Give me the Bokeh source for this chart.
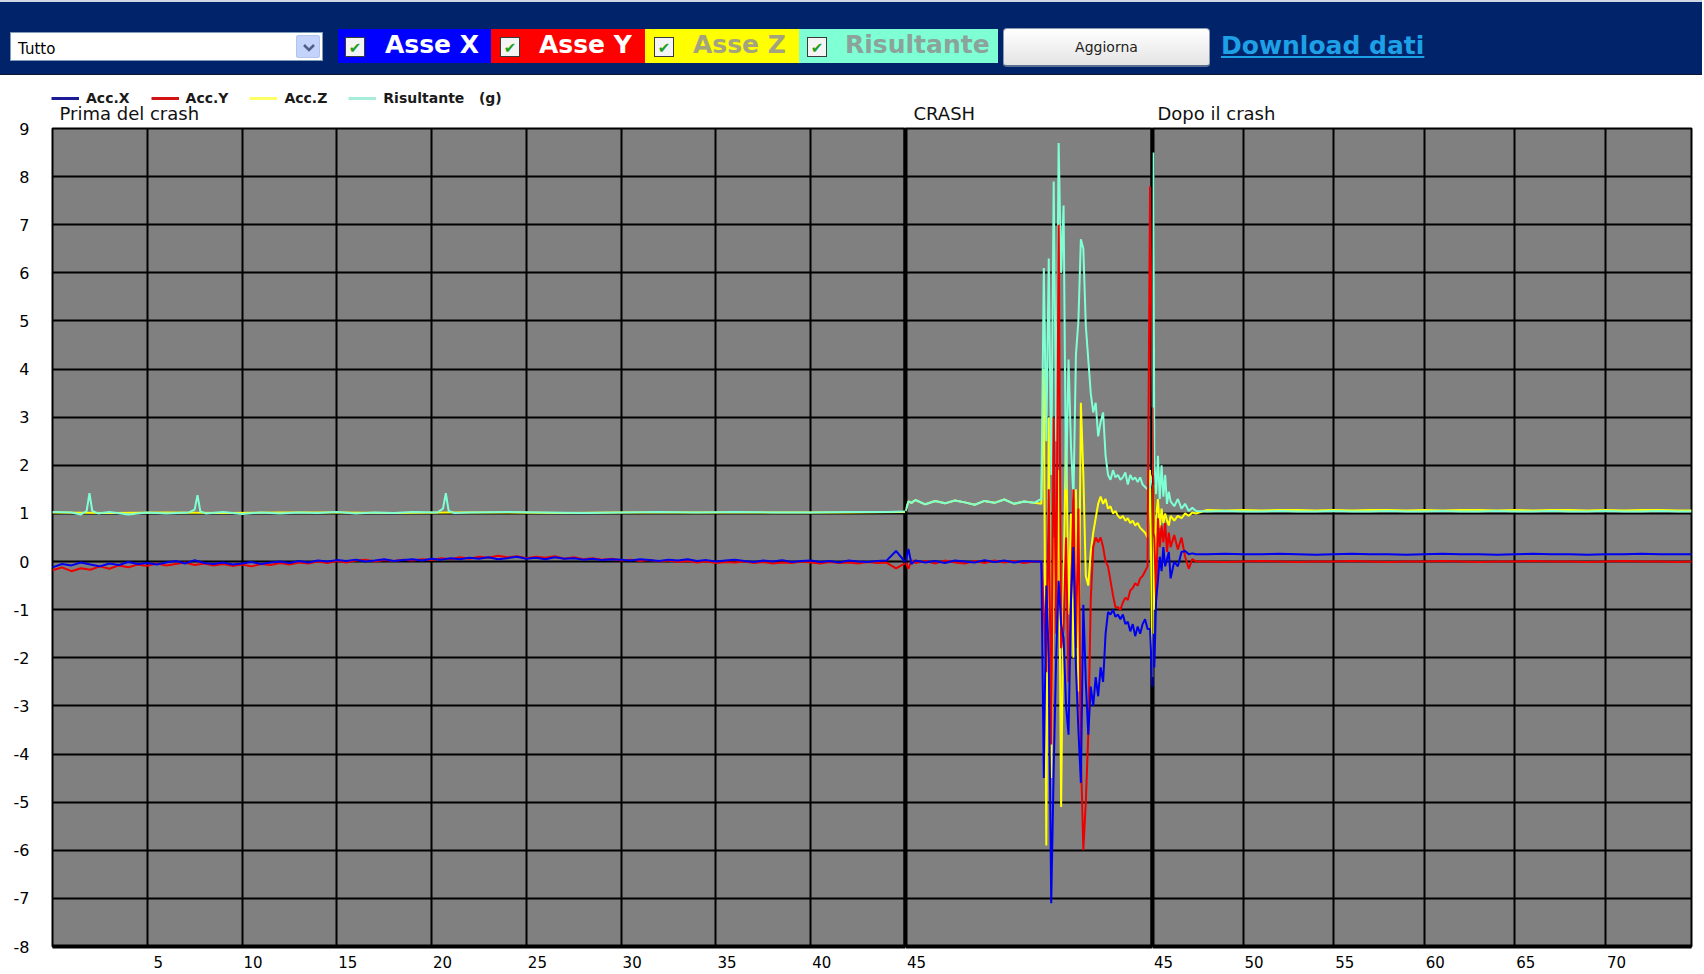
from bokeh.plotting import figure
from bokeh.models import (Range1d, FixedTicker, Span, Div, Legend, LegendItem,
                          CustomJSTickFormatter, Label)
from bokeh.layouts import column, row
from bokeh.embed import file_html
from bokeh.resources import INLINE

# ---------------- texts ----------------
SELECT_TEXT = "Tutto"
AXIS_CHECKS = ["Asse X", "Asse Y", "Asse Z", "Risultante"]
BUTTON_TEXT = "Aggiorna"
LINK_TEXT = "Download dati"
LEGEND_LABELS = ["Acc.X", "Acc.Y", "Acc.Z", "Risultante\u00a0\u00a0\u00a0(g)"]
SECTION_TITLES = ["Prima del crash", "CRASH", "Dopo il crash"]

Y_TICKS = list(range(-8, 10))
X_TICKS_BEFORE = [5, 10, 15, 20, 25, 30, 35, 40]
X_TICKS_CRASH = [45]
X_TICKS_AFTER = [45, 50, 55, 60, 65, 70]
GRID_BEFORE = [5, 10, 15, 20, 25, 30, 35, 40]
GRID_AFTER = [50, 55, 60, 65, 70]

# ---------------- section 1: before the crash (s) ----------------
t_before = [i * 0.5 for i in range(91)]
accx_before = [-0.12, -0.05, -0.08, -0.02, -0.06, -0.10, -0.04, -0.07, -0.01, -0.05,
               -0.03, -0.06, -0.02, 0.01, -0.04, 0.03, -0.03, -0.05, -0.02, -0.06,
               -0.04, -0.01, -0.05, -0.02, 0.00, -0.03, 0.01, -0.02, 0.02, 0.00,
               0.03, 0.01, 0.04, 0.00, 0.02, 0.05, 0.01, 0.03, 0.05, 0.02,
               0.06, 0.04, 0.07, 0.05, 0.08, 0.06, 0.09, 0.05, 0.07, 0.10,
               0.06, 0.08, 0.05, 0.09, 0.06, 0.07, 0.04, 0.06, 0.03, 0.05,
               0.04, 0.02, 0.05, 0.03, 0.01, 0.04, 0.02, 0.05, 0.01, 0.03,
               0.00, 0.02, 0.04, 0.01, -0.01, 0.02, 0.00, 0.03, -0.01, 0.01,
               0.02, -0.01, 0.01, -0.02, 0.02, 0.00, -0.01, 0.01, 0.02, 0.22,
               -0.02]
accy_before = [-0.18, -0.12, -0.20, -0.14, -0.17, -0.10, -0.15, -0.08, -0.12, -0.06,
               -0.09, -0.04, -0.08, -0.05, -0.02, -0.07, -0.04, -0.08, -0.05, -0.09,
               -0.06, -0.10, -0.05, -0.07, -0.03, -0.06, -0.02, -0.04, 0.00, -0.03,
               0.01, -0.02, 0.02, 0.04, 0.00, 0.03, 0.01, 0.04, 0.02, 0.05,
               0.03, 0.07, 0.05, 0.09, 0.06, 0.10, 0.08, 0.12, 0.09, 0.11,
               0.07, 0.10, 0.08, 0.11, 0.06, 0.09, 0.05, 0.07, 0.04, 0.06,
               0.02, 0.04, 0.01, 0.03, 0.00, 0.02, -0.01, 0.01, -0.02, 0.00,
               -0.03, -0.01, -0.02, 0.00, -0.03, -0.01, -0.04, -0.02, -0.03, 0.00,
               -0.02, -0.04, -0.01, -0.03, -0.02, -0.04, -0.01, -0.03, -0.02, -0.14,
               -0.03]
tz_before = [0, 3, 6, 9, 12, 15, 18, 21, 24, 27, 30, 33, 36, 39, 42, 45]
accz_before = [1.02, 1.01, 1.02, 1.01, 1.02, 1.02, 1.01, 1.02, 1.02, 1.01, 1.02, 1.02, 1.02, 1.02, 1.02, 1.03]
tr_before = [0, 1.0, 1.5, 1.8, 1.95, 2.1, 2.4, 3.0, 4, 5, 6, 7.2, 7.5, 7.65, 7.8, 8.1, 9, 10, 11, 12,
             13, 14, 15, 16, 17, 18, 19, 20.3, 20.6, 20.75, 20.9, 21.2, 22, 24, 26, 28, 30, 32, 34,
             36, 38, 40, 42, 44, 45]
res_before = [1.03, 1.02, 0.98, 1.05, 1.42, 1.05, 1.00, 1.03, 0.98, 1.02, 1.00, 1.02, 1.08, 1.38, 1.04,
              1.00, 1.03, 0.99, 1.02, 1.00, 1.02, 1.01, 1.03, 1.00, 1.02, 1.01, 1.03, 1.02, 1.10, 1.42,
              1.05, 1.01, 1.02, 1.03, 1.02, 1.01, 1.02, 1.03, 1.02, 1.03, 1.02, 1.02, 1.03, 1.03, 1.04]

# ---------------- section 2: crash window (s) ----------------
t_crash = [45.0, 45.006, 45.012, 45.02, 45.04, 45.06, 45.08, 45.10, 45.12, 45.14, 45.16, 45.18,
           45.20, 45.22, 45.24, 45.26] + [round(45.275 + 0.005 * k, 3) for k in range(46)]
accx_crash = [0.0, 0.26, -0.05, 0.02, -0.02, 0.01, -0.03, 0.02, 0.0, -0.02, 0.03, -0.01, 0.02, -0.02, 0.01, 0.0,
              0.0, -4.5, -0.5, -2.0, -7.1, -4.3, -2.0, -0.4, -1.3, -1.6, -3.0, -3.6, -0.8, 0.3, -2.2, -3.5,
              -4.6, -0.9, -2.5, -3.6, -2.6, -3.0, -2.4, -2.8, -2.2, -2.5, -1.5, -1.05, -1.1, -1.0, -1.15,
              -1.1, -1.2, -1.1, -1.3, -1.25, -1.45, -1.3, -1.55, -1.35, -1.5, -1.3, -1.2, -1.4, -1.4, -2.6]
accy_crash = [-0.02, -0.15, 0.03, -0.03, 0.01, -0.04, 0.02, -0.02, -0.04, 0.01, -0.03, 0.02, -0.02, 0.01, -0.03, 0.0,
              0.0, -1.0, -2.3, 1.5, -3.8, 3.0, -1.5, 7.0, -1.8, -1.4, 0.5, -2.5, -0.9, 1.5, -1.8, 1.1,
              -4.0, -6.0, -5.0, -3.6, -0.8, 0.3, 0.5, 0.4, 0.5, 0.3, 0.0, -0.1, -0.4, -0.7, -0.95,
              -0.95, -1.0, -0.85, -0.75, -0.8, -0.6, -0.55, -0.45, -0.5, -0.35, -0.3, -0.2, -0.1, 7.8, 3.2]
accz_crash = [1.05, 1.25, 1.22, 1.28, 1.19, 1.26, 1.21, 1.27, 1.23, 1.18, 1.26, 1.22, 1.29, 1.20, 1.25, 1.22,
              1.2, 4.0, -5.9, 3.0, -4.5, 0.5, -1.2, 1.9, -5.1, -0.5, 2.8, -1.1, 1.0, -2.0, 1.5, -2.7,
              3.3, 1.8, -0.3, -0.5, 0.2, 0.6, 0.9, 1.2, 1.35, 1.2, 1.3, 1.1, 1.15, 1.0, 1.05,
              0.95, 0.9, 0.95, 0.85, 0.9, 0.8, 0.85, 0.75, 0.8, 0.7, 0.65, 0.6, 0.5, 1.9, -2.4]
res_crash = [1.05, 1.25, 1.22, 1.28, 1.19, 1.26, 1.21, 1.27, 1.23, 1.18, 1.26, 1.22, 1.29, 1.20, 1.25, 1.22,
             1.3, 6.1, 2.5, 6.3, 1.8, 7.9, 2.5, 8.7, 6.0, 7.4, 1.5, 4.2, 2.4, 1.3, 4.3, 5.0,
             6.7, 6.5, 4.9, 4.2, 3.5, 3.1, 3.3, 2.6, 2.9, 3.1, 2.2, 1.8, 1.7, 1.9, 1.75,
             1.8, 1.7, 1.75, 1.85, 1.6, 1.8, 1.7, 1.75, 1.65, 1.75, 1.6, 1.55, 1.5, 1.55, 1.8]

# ---------------- section 3: after the crash (s) ----------------
t_after = [45.0, 45.05, 45.1, 45.2, 45.3, 45.4, 45.5, 45.6, 45.7, 45.8, 45.9, 46.0, 46.2, 46.4, 46.6,
           46.8, 47.0, 47.2, 47.4] + list(range(48, 75)) + [74.75]
accx_after = [-2.6, -1.5, -2.2, -0.8, -0.4, 0.1, -0.2, 0.3, -0.1, 0.05, 0.2, -0.35, 0.0, -0.1, 0.2,
              0.22, 0.15, 0.17, 0.15,
              0.15, 0.16, 0.15, 0.15, 0.16, 0.15, 0.14, 0.15, 0.16, 0.15, 0.15, 0.14, 0.15, 0.16,
              0.15, 0.15, 0.14, 0.15, 0.16, 0.15, 0.15, 0.14, 0.15, 0.15, 0.16, 0.15, 0.15, 0.15]
accy_after = [3.2, 0.6, 0.5, -0.8, 0.9, 0.3, 0.75, 0.4, 0.8, 0.2, 0.6, 0.3, 0.55, 0.25, 0.5,
              0.1, -0.15, 0.05, 0.0,
              0.0, -0.01, 0.0, 0.01, 0.0, -0.01, 0.0, 0.0, 0.01, 0.0, -0.01, 0.0, 0.0, 0.01,
              0.0, -0.01, 0.0, 0.0, 0.01, 0.0, 0.0, -0.01, 0.0, 0.01, 0.0, 0.0, -0.01, 0.0]
accz_after = [-2.4, 1.6, -1.0, 0.9, 1.3, 0.7, 1.1, 0.8, 1.0, 0.85, 0.75, 0.95, 0.85, 0.95, 0.9,
              1.0, 0.95, 1.02, 1.0,
              1.07, 1.06, 1.07, 1.06, 1.07, 1.07, 1.06, 1.07, 1.06, 1.07, 1.07, 1.06, 1.07, 1.06,
              1.07, 1.07, 1.06, 1.07, 1.06, 1.07, 1.07, 1.06, 1.07, 1.06, 1.07, 1.07, 1.06, 1.06]
res_after = [1.8, 8.5, 2.1, 1.4, 2.2, 1.3, 2.0, 1.35, 1.8, 1.2, 1.45, 1.25, 1.15, 1.3, 1.1,
             1.2, 1.05, 1.12, 1.05,
             1.04, 1.05, 1.04, 1.04, 1.05, 1.04, 1.04, 1.05, 1.04, 1.04, 1.05, 1.04, 1.04, 1.05,
             1.04, 1.04, 1.05, 1.04, 1.04, 1.05, 1.04, 1.04, 1.05, 1.04, 1.04, 1.05, 1.04, 1.04]

# ---------------- styles / layout ----------------
C_X, C_Y, C_Z, C_R = "#0000ee", "#ee0000", "#ffff00", "#7fffd4"
FONT = "DejaVu Sans"
PAGE_W = 1702
STRIP_H = 48
OVERLAP = 8           # plots' transparent top border overlaps the strip's bottom
FRAME_H = 818
TOP_BORDER = 2 + OVERLAP
BOTTOM_BORDER = 26
FIG_H = TOP_BORDER + FRAME_H + BOTTOM_BORDER
F1_W, F1_LEFT = 905, 52
F2_W = 247
F3_W, F3_RIGHT = PAGE_W - F1_W - F2_W, 11
LABEL_SHIFT_PX = 11
TITLE_X = [F1_LEFT + 7, F1_W + 8, F1_W + F2_W + 5]
TITLE_Y = 13          # px above the bottom of the strip
LEGEND_Y = 20         # px above the bottom of the strip


def make_section(width, x_start, x_end, bl, br, grid_ticks, label_ticks, show_y):
    p = figure(width=width, height=FIG_H, x_range=Range1d(x_start, x_end), y_range=Range1d(-8, 9),
               output_backend="svg", toolbar_location=None, title=None,
               y_axis_location="left" if show_y else None,
               min_border_left=bl, min_border_right=br,
               min_border_top=TOP_BORDER, min_border_bottom=BOTTOM_BORDER)
    p.background_fill_color = "#808080"
    p.border_fill_alpha = 0
    p.outline_line_color = "#000000"
    p.outline_line_width = 2

    frame_w = width - bl - br
    shift = round(LABEL_SHIFT_PX * (x_end - x_start) / frame_w, 4)
    p.xaxis.ticker = FixedTicker(ticks=[t + shift for t in label_ticks])
    p.xaxis.formatter = CustomJSTickFormatter(args=dict(shift=shift),
                                              code="return String(Math.round(tick - shift));")
    p.xaxis.axis_line_color = "#000000"
    p.xaxis.axis_line_width = 4
    p.xaxis.major_tick_line_color = None
    p.xaxis.minor_tick_line_color = None
    p.xaxis.major_label_standoff = 3
    p.xaxis.major_label_text_font = FONT
    p.xaxis.major_label_text_font_size = "15px"
    p.xaxis.major_label_text_color = "#000000"

    if show_y:
        p.yaxis.ticker = FixedTicker(ticks=Y_TICKS)
        p.yaxis.formatter = CustomJSTickFormatter(code="return String(Math.round(tick));")
        p.yaxis.axis_line_color = None
        p.yaxis.major_tick_line_color = None
        p.yaxis.minor_tick_line_color = None
        p.yaxis.major_label_standoff = 17
        p.yaxis.major_label_text_font = FONT
        p.yaxis.major_label_text_font_size = "16px"
        p.yaxis.major_label_text_color = "#000000"

    p.xgrid.ticker = FixedTicker(ticks=grid_ticks)
    p.xgrid.grid_line_color = "#000000" if grid_ticks else None
    p.xgrid.grid_line_width = 2
    p.ygrid.ticker = FixedTicker(ticks=Y_TICKS)
    p.ygrid.grid_line_color = "#000000"
    p.ygrid.grid_line_width = 2
    return p


def boundary(p, loc):
    p.add_layout(Span(location=loc, dimension="height", line_color="#000000",
                      line_width=4, level="underlay"))


# section 1
f1 = make_section(F1_W, 0, 45, F1_LEFT, 0, GRID_BEFORE, X_TICKS_BEFORE, True)
boundary(f1, 45)
f1.line(tz_before, accz_before, line_color=C_Z, line_width=2)
f1.line(tr_before, res_before, line_color=C_R, line_width=2)
f1.line(t_before, accy_before, line_color=C_Y, line_width=2)
f1.line(t_before, accx_before, line_color=C_X, line_width=2)

# section 2 (crash window)
f2 = make_section(F2_W, 45.0, 45.5, 0, 0, [], X_TICKS_CRASH, False)
boundary(f2, 45.0)
boundary(f2, 45.5)
f2.line(t_crash, accz_crash, line_color=C_Z, line_width=2)
f2.line(t_crash, res_crash, line_color=C_R, line_width=2)
f2.line(t_crash, accy_crash, line_color=C_Y, line_width=2)
f2.line(t_crash, accx_crash, line_color=C_X, line_width=2)

# section 3
f3 = make_section(F3_W, 45, 74.75, 0, F3_RIGHT, GRID_AFTER, X_TICKS_AFTER, False)
boundary(f3, 45)
f3.line(t_after, accz_after, line_color=C_Z, line_width=2)
f3.line(t_after, res_after, line_color=C_R, line_width=2)
f3.line(t_after, accy_after, line_color=C_Y, line_width=2)
f3.line(t_after, accx_after, line_color=C_X, line_width=2)

# ---------------- strip above the plots: legend keys + section titles ----------------
lg = figure(width=PAGE_W, height=STRIP_H, output_backend="svg", toolbar_location=None,
            x_range=Range1d(0, 45), y_range=Range1d(100, 101),
            x_axis_location=None, y_axis_location=None,
            min_border_left=0, min_border_right=0, min_border_top=0, min_border_bottom=0)
lg.outline_line_color = None
lg.xgrid.visible = False
lg.ygrid.visible = False
k_x = lg.line(t_before, accx_before, line_color="#1c1c96", line_width=3)
k_y = lg.line(t_before, accy_before, line_color="#d41414", line_width=3)
k_z = lg.line(tz_before, accz_before, line_color="#ffff66", line_width=3)
k_r = lg.line(tr_before, res_before, line_color="#a6eedb", line_width=3)
leg = Legend(items=[LegendItem(label=LEGEND_LABELS[0], renderers=[k_x]),
                    LegendItem(label=LEGEND_LABELS[1], renderers=[k_y]),
                    LegendItem(label=LEGEND_LABELS[2], renderers=[k_z]),
                    LegendItem(label=LEGEND_LABELS[3], renderers=[k_r])],
             orientation="horizontal", location=(51, LEGEND_Y),
             border_line_color=None, background_fill_alpha=0, padding=0, margin=0,
             spacing=21, glyph_width=28, glyph_height=12, label_standoff=7, label_height=12,
             label_text_font=FONT, label_text_font_size="14px", label_text_font_style="bold",
             label_text_color="#1a1a1a")
lg.add_layout(leg, "center")
for tx, title in zip(TITLE_X, SECTION_TITLES):
    lg.add_layout(Label(x=tx, y=TITLE_Y, x_units="screen", y_units="screen", text=title,
                        text_font=FONT, text_font_size="18px", text_color="#111111",
                        text_align="left", text_baseline="middle"))

# ---------------- header (form controls) ----------------
def check_box(label, bg, fg, left, width, cb_left, text_left):
    return (f'<div style="position:absolute;left:{left}px;top:27px;width:{width}px;height:34px;background:{bg};">'
            f'<div style="position:absolute;left:{cb_left}px;top:8px;width:20px;height:20px;background:#f4f4f4;'
            f'border:1px solid #3a3a3a;color:#1e9e1e;font-size:15px;font-weight:bold;line-height:20px;'
            f'text-align:center;">&#10004;</div>'
            f'<div style="position:absolute;left:{text_left}px;top:0;height:34px;line-height:32px;'
            f'font-size:25px;font-weight:bold;color:{fg};white-space:nowrap;">{label}</div></div>')


boxes = "".join([
    check_box(AXIS_CHECKS[0], "#0000ff", "#ffffff", 338, 153, 7, 47),
    check_box(AXIS_CHECKS[1], "#ff0000", "#ffffff", 491, 154, 9, 48),
    check_box(AXIS_CHECKS[2], "#ffff00", "#a3a37f", 645, 154, 9, 48),
    check_box(AXIS_CHECKS[3], "#7fffd4", "#8ba39a", 799, 199, 8, 46),
])

header_html = (
    f'<div style="position:relative;width:{PAGE_W}px;height:75px;background:#002369;overflow:hidden;'
    f'border-top:2px solid #cfd6e4;border-bottom:1px solid #101830;font-family:\'DejaVu Sans\',sans-serif;">'
    f'<div style="position:absolute;left:10px;top:30px;width:313px;height:29px;background:#ffffff;'
    f'border:1px solid #7f9db9;">'
    f'<span style="position:absolute;left:7px;top:6px;font-size:15px;color:#000000;">{SELECT_TEXT}</span>'
    f'<div style="position:absolute;right:2px;top:2px;width:24px;height:23px;background:#c3d3fb;'
    f'border:1px solid #b0c4ee;border-radius:2px;">'
    f'<svg width="24" height="23" style="position:absolute;left:0;top:0;">'
    f'<polyline points="7,9 12,14 17,9" fill="none" stroke="#4d6185" stroke-width="2.5"/></svg></div></div>'
    f'{boxes}'
    f'<div style="position:absolute;left:1003px;top:26px;width:207px;height:39px;box-sizing:border-box;'
    f'background:linear-gradient(#ffffff,#e4e4e4);border:1px solid #8a9aae;border-bottom:2px solid #5a6f90;'
    f'border-radius:4px;text-align:center;line-height:36px;font-size:14px;color:#222222;">{BUTTON_TEXT}</div>'
    f'<div style="position:absolute;left:1221px;top:27px;height:34px;line-height:34px;font-size:25px;'
    f'font-weight:bold;color:#1ea0e6;text-decoration:underline;white-space:nowrap;">{LINK_TEXT}</div>'
    f'</div>'
)
header = Div(text=header_html, width=PAGE_W, height=78, margin=(0, 0, 0, 0))

plots = row(f1, f2, f3, margin=(-OVERLAP, 0, 0, 0))
layout = column(header, lg, plots)
open("out.html", "w").write(file_html(layout, INLINE))
